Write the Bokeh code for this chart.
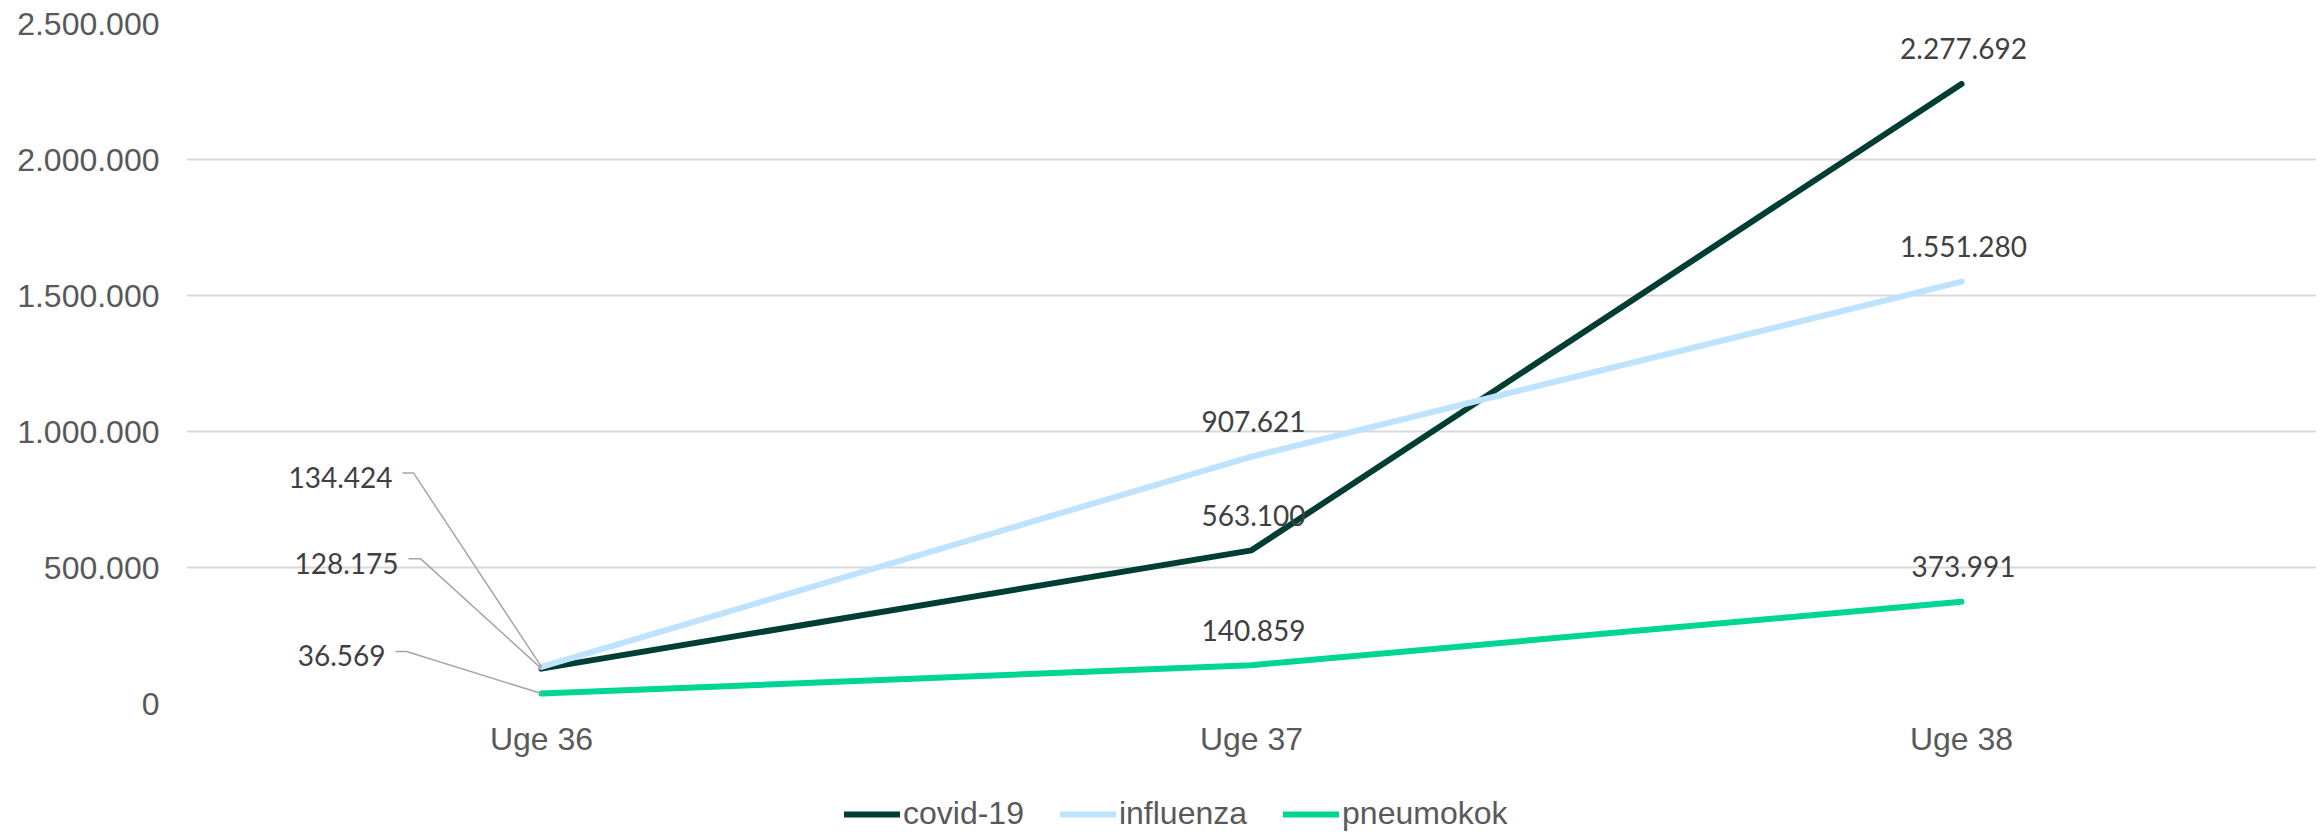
from bokeh.plotting import figure
from bokeh.models import FixedTicker, Legend, LegendItem
from bokeh.layouts import column
from bokeh.embed import file_html
from bokeh.resources import INLINE
from bokeh.core.properties import value

# ---- data ----
categories = ["Uge 36", "Uge 37", "Uge 38"]
covid = [128175, 563100, 2277692]
influenza = [134424, 907621, 1551280]
pneumokok = [36569, 140859, 373991]
series_names = ["covid-19", "influenza", "pneumokok"]
y_ticks = [0, 500000, 1000000, 1500000, 2000000, 2500000]
y_tick_labels = ["0", "500.000", "1.000.000", "1.500.000", "2.000.000", "2.500.000"]

def fmt(v):
    return f"{v:,}".replace(",", ".")

# ---- styles / layout ----
colors = ["#003D33", "#BEE3FF", "#00D694"]
W = 2316
LEG_H = 56
H = 836 - LEG_H
ML, MT = 186, 23
FH = 680
MB = H - MT - FH
FW = W - ML
YMAX = 2500000
axis_font = "Liberation Sans"
label_font = "Lato"

p = figure(width=W, height=H, output_backend="svg", toolbar_location=None,
           x_range=(-0.5, len(categories) - 0.5), y_range=(0, YMAX),
           min_border_left=ML, min_border_right=0, min_border_top=MT,
           min_border_bottom=MB)
p.outline_line_color = None
p.background_fill_color = "white"

p.xgrid.grid_line_color = None
p.ygrid.grid_line_color = "#D9D9D9"
p.ygrid.grid_line_width = 2
p.ygrid.ticker = FixedTicker(ticks=y_ticks)

p.yaxis.ticker = FixedTicker(ticks=y_ticks)
p.yaxis.major_label_overrides = {t: l for t, l in zip(y_ticks, y_tick_labels)}
p.xaxis.ticker = FixedTicker(ticks=list(range(len(categories))))
p.xaxis.major_label_overrides = {i: c for i, c in enumerate(categories)}
for ax in (p.xaxis, p.yaxis):
    ax.axis_line_color = None
    ax.major_tick_line_color = None
    ax.minor_tick_line_color = None
    ax.major_tick_out = 0
    ax.major_tick_in = 0
    ax.minor_tick_out = 0
    ax.major_label_text_font = axis_font
    ax.major_label_text_font_size = "32px"
    ax.major_label_text_color = "#595959"
p.yaxis.major_label_standoff = 27
p.xaxis.major_label_standoff = 17

xs = list(range(len(categories)))
all_series = [covid, influenza, pneumokok]
for vals, col in zip(all_series, colors):
    p.line(xs, vals, line_color=col, line_width=6, line_cap="round", line_join="round")

# data labels for Uge 37 and Uge 38 (centered above points)
lab_x, lab_y, lab_t = [], [], []
for vals in all_series:
    for i in (1, 2):
        lab_x.append(xs[i]); lab_y.append(vals[i]); lab_t.append(fmt(vals[i]))
p.text(x=lab_x, y=lab_y, text=lab_t, text_align="center", text_baseline="middle",
       y_offset=-35, x_offset=2, text_font=value(label_font), text_font_size="28px",
       text_color="#404040")

# Uge 36 labels with leader lines (pixel offsets from point)
px_x = (len(categories)) / FW
px_y = YMAX / FH
txt_dx = [-143, -149, -156]   # covid, influenza, pneumokok
txt_dy = [-105, -189, -38]
lead_dy = [-110, -194, -42]
lead_x0 = [-133, -139, -146]
lead_x1 = [-121, -128, -135]
for k, vals in enumerate(all_series):
    v = vals[0]
    p.text(x=[xs[0]], y=[v], text=[fmt(v)], text_align="right", text_baseline="middle",
           x_offset=txt_dx[k], y_offset=txt_dy[k], text_font=value(label_font),
           text_font_size="28px", text_color="#404040")
    lx = [xs[0] + lead_x0[k] * px_x, xs[0] + lead_x1[k] * px_x, xs[0]]
    ly = [v - lead_dy[k] * px_y, v - lead_dy[k] * px_y, v]
    p.line(lx, ly, line_color="#A6A6A6", line_width=1.5)

# ---- legend strip under the chart ----
pl = figure(width=W, height=LEG_H, output_backend="svg", toolbar_location=None,
            x_range=(10, 11), y_range=(10, 11), x_axis_location=None, y_axis_location=None,
            min_border=0)
pl.outline_line_color = None
pl.grid.visible = False
leg_renderers = [pl.line(xs, vals, line_color=col, line_width=6, line_cap="round")
                 for vals, col in zip(all_series, colors)]
legend = Legend(items=[LegendItem(label=n, renderers=[r]) for n, r in zip(series_names, leg_renderers)],
                orientation="horizontal", location=(658, 4),
                glyph_width=56, glyph_height=30, label_standoff=3, spacing=36,
                padding=0, margin=0, border_line_color=None, background_fill_alpha=0,
                label_text_font=axis_font, label_text_font_size="32px",
                label_text_color="#595959", label_height=30)
pl.add_layout(legend, "center")

open("out.html", "w").write(file_html(column(p, pl, spacing=0), INLINE))
